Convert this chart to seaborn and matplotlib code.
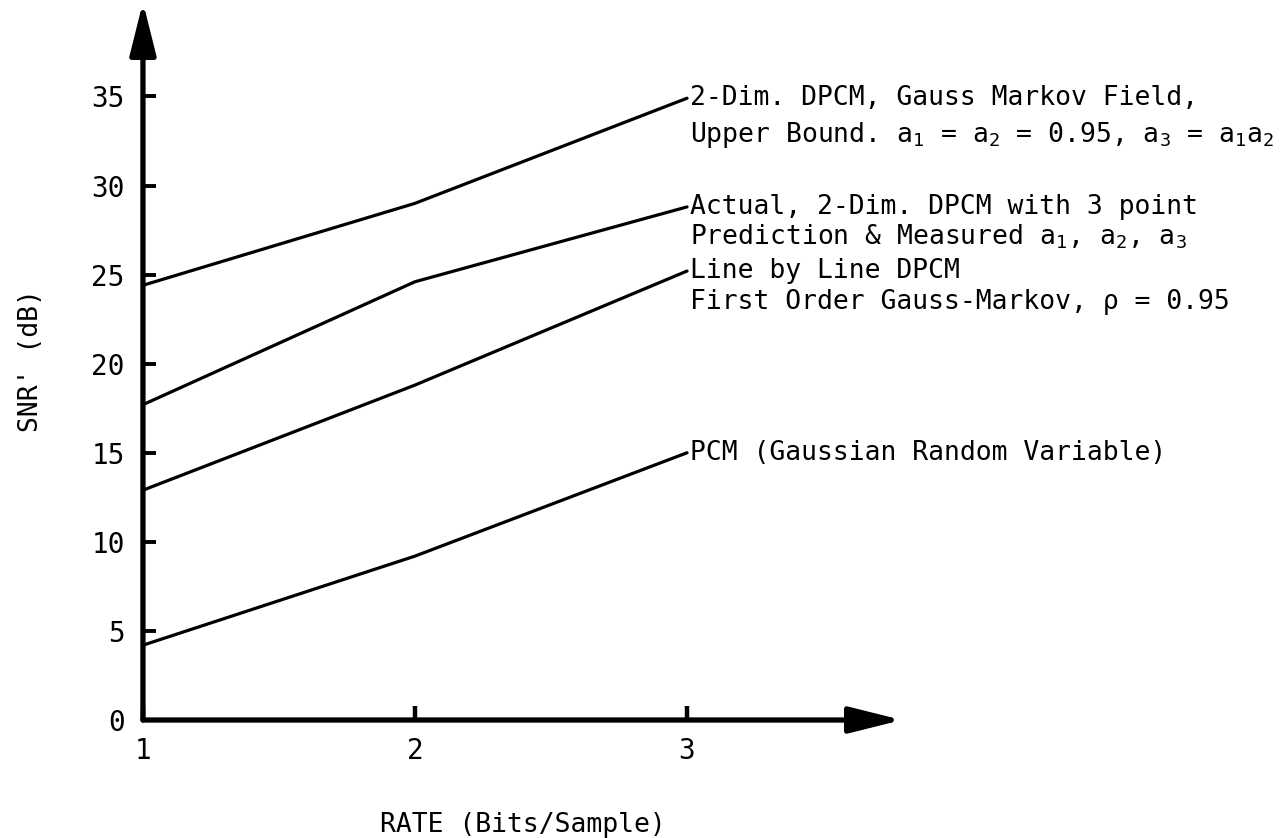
import matplotlib
matplotlib.use("Agg")
import matplotlib.pyplot as plt
import seaborn as sns
import pandas as pd

# ---- data ----
rate = [1, 2, 3]
upper_bound = [24.4, 29.0, 34.9]
actual_2d = [17.7, 24.6, 28.8]
line_by_line = [12.9, 18.8, 25.2]
pcm = [4.2, 9.2, 15.0]

series_names = ["upper", "actual", "lbl", "pcm"]
series_values = [upper_bound, actual_2d, line_by_line, pcm]

label_lines = [
    ["2-Dim. DPCM, Gauss Markov Field,",
     "Upper Bound. a$_1$ = a$_2$ = 0.95, a$_3$ = a$_1$a$_2$"],
    ["Actual, 2-Dim. DPCM with 3 point",
     "Prediction & Measured a$_1$, a$_2$, a$_3$"],
    ["Line by Line DPCM",
     "First Order Gauss-Markov, ρ = 0.95"],
    ["PCM (Gaussian Random Variable)"],
]
label_spacing = [26.5, 21.5, 22.5, 21.5]  # points between text lines

yticks = [0, 5, 10, 15, 20, 25, 30, 35]
xticks = [1, 2, 3]
xlabel = "RATE (Bits/Sample)"
ylabel = "SNR' (dB)"

rows = []
for name, vals in zip(series_names, series_values):
    for x, y in zip(rate, vals):
        rows.append({"rate": x, "snr": y, "series": name})
df = pd.DataFrame(rows)

# ---- style ----
sns.set_style("white")
FONT = "DejaVu Sans Mono"
plt.rcParams["font.family"] = [FONT, "DejaVu Sans"]
plt.rcParams["mathtext.fontset"] = "custom"
plt.rcParams["mathtext.rm"] = FONT
plt.rcParams["mathtext.it"] = FONT
plt.rcParams["mathtext.default"] = "regular"
for k in ["text.color", "axes.labelcolor", "xtick.color", "ytick.color"]:
    plt.rcParams[k] = "black"

fig = plt.figure(figsize=(12.81, 8.38), dpi=100)
ax = fig.add_axes([0.1116, 0.1408, 0.5925, 0.8568])

sns.lineplot(data=df, x="rate", y="snr", hue="series",
             palette=["black"] * 4, linewidth=2.3, legend=False,
             ax=ax, clip_on=False)

ax.set_xlim(1, 3.79)
ax.set_ylim(0, 40.3)

for s in ax.spines.values():
    s.set_visible(False)

# axes with arrowheads
arrow_style = "-|>,head_length=0.8,head_width=0.2"
ax.annotate("", xy=(1.0, 0), xytext=(0, 0), xycoords="axes fraction",
            textcoords="axes fraction",
            arrowprops=dict(arrowstyle=arrow_style, lw=3.8, color="black",
                            mutation_scale=40, shrinkA=0, shrinkB=0))
ax.annotate("", xy=(0, 1.0), xytext=(0, 0), xycoords="axes fraction",
            textcoords="axes fraction",
            arrowprops=dict(arrowstyle=arrow_style, lw=3.8, color="black",
                            mutation_scale=40, shrinkA=0, shrinkB=0))

ax.set_yticks(yticks)
ax.set_xticks(xticks)
ax.tick_params(axis="y", left=True, direction="in", length=9, width=2.8,
               pad=13, labelsize=20, color="black")
ax.tick_params(axis="x", bottom=True, direction="in", length=10, width=3.2,
               pad=12, labelsize=20, color="black")
ax.set_xlabel(xlabel, fontsize=19, labelpad=34)
ax.set_ylabel(ylabel, fontsize=19, labelpad=34)

# labels at line ends
for lines, vals, sp in zip(label_lines, series_values, label_spacing):
    for i, txt in enumerate(lines):
        ax.annotate(txt, xy=(rate[-1], vals[-1]), xytext=(2, -i * sp),
                    textcoords="offset points", ha="left", va="center",
                    fontsize=19, annotation_clip=False)

fig.savefig("out.png", dpi=100, facecolor="white")
